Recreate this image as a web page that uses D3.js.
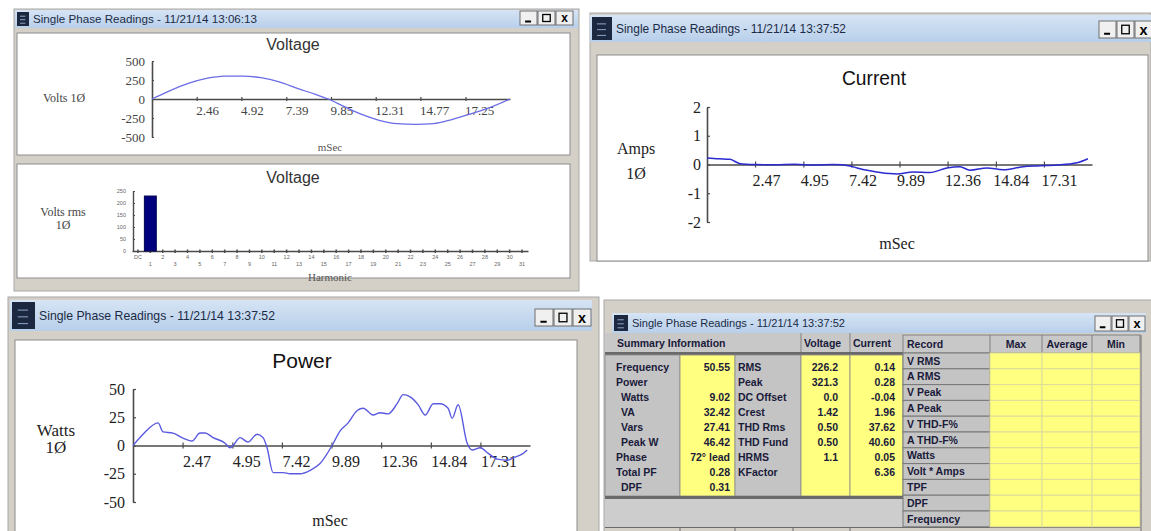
<!DOCTYPE html>
<html>
<head>
<meta charset="utf-8">
<script src="https://cdn.jsdelivr.net/npm/d3@7/dist/d3.min.js"></script>
<style>
  body { margin: 0; background: #fff; }
  svg { display: block; }
</style>
</head>
<body>
<div id="viz"></div>
<script>
// voltage waveform (top left)
var vTime  = [0, 1.0, 2.0, 3.0, 4.0, 5.0, 6.0, 7.0, 8.0, 9.0, 9.7, 10.5, 11.5, 12.5, 13.5, 14.5, 15.5, 16.5, 17.5, 18.5, 19.7];
var vVolts = [0, 110, 205, 270, 300, 302, 280, 225, 140, 60, 0, -90, -200, -280, -325, -335, -325, -270, -200, -120, 0];
var vTicks  = [2.46, 4.92, 7.39, 9.85, 12.31, 14.77, 17.25];
var vYTicks = [500, 250, 0, -250, -500];

// voltage harmonics
var harmonics = ['DC','1','2','3','4','5','6','7','8','9','10','11','12','13','14','15','16',
                 '17','18','19','20','21','22','23','24','25','26','27','28','29','30','31'];
var harmVolts = [0, 229, 0, 0, 0, 0, 0, 0, 0, 0, 0, 0, 0, 0, 0, 0, 0,
                 0, 0, 0, 0, 0, 0, 0, 0, 0, 0, 0, 0, 0, 0, 0];
var harmYTicks = [0, 50, 100, 150, 200, 250];

// current waveform
var iTime = [0, 0.6, 1.18, 1.7, 2.5, 3.5, 4.5, 5.5, 6.5, 7.35, 7.71, 8.37, 8.89, 9.76, 10.58, 11.46,
             12.33, 13.0, 13.51, 14.39, 15.21, 16.23, 16.95, 17.98, 19.01, 19.57];
var iAmps = [0.23, 0.2, 0.18, 0.03, 0.0, -0.01, 0.01, -0.02, 0.0, -0.05, -0.12, -0.22, -0.28, -0.33, -0.26, -0.28,
             -0.12, -0.08, -0.2, -0.12, -0.18, -0.08, -0.05, -0.02, 0.06, 0.2];
var iTicks  = [2.47, 4.95, 7.42, 9.89, 12.36, 14.84, 17.31];
var iYTicks = [2, 1, 0, -1, -2];

// power waveform
var pTime = [0, 0.5, 1.25, 1.5, 1.99, 2.44, 2.94, 3.34, 3.59, 3.99, 4.59, 4.84, 4.99, 5.33, 5.73, 6.18, 6.48,
             6.68, 6.98, 7.48, 7.83, 8.33, 8.82, 9.32, 9.92, 10.32, 10.72, 11.17, 11.47, 11.96, 12.31, 12.71,
             13.16, 13.46, 13.81, 14.21, 14.56, 14.96, 15.30, 15.70, 15.90, 16.20, 16.65, 16.90, 17.30, 17.70,
             18.15, 18.64, 18.94, 19.44, 19.64];
var pWatts = [0, 10, 20, 12, 11, 7, 4, 11, 11, 7, 2, -2, 0, 7, 3, 10, 7,
              -2, -24, -24, -25, -25, -22, -16, 0, 13, 20, 31, 33, 27, 29, 28,
              37, 45, 43, 36, 27, 37, 37, 33, 24, 36, 2, -4, -2, -7,
              -12, -13, -11, -7, -4];
var pYTicks = [50, 25, 0, -25, -50];

// summary table
var summaryLabels = ['Frequency', 'Power', ' Watts', ' VA', ' Vars', ' Peak W', 'Phase', 'Total PF', ' DPF'];
var summaryValues = ['50.55', '', '9.02', '32.42', '27.41', '46.42', '72\u00b0 lead', '0.28', '0.31'];
var measureLabels = ['RMS', 'Peak', 'DC Offset', 'Crest', 'THD Rms', 'THD Fund', 'HRMS', 'KFactor', ''];
var voltageValues = ['226.2', '321.3', '0.0', '1.42', '0.50', '0.50', '1.1', '', ''];
var currentValues = ['0.14', '0.28', '-0.04', '1.96', '37.62', '40.60', '0.05', '6.36', ''];
var recordLabels  = ['V RMS', 'A RMS', 'V Peak', 'A Peak', 'V THD-F%', 'A THD-F%', 'Watts', 'Volt * Amps', 'TPF', 'DPF', 'Frequency'];
var recordCols    = ['Max', 'Average', 'Min'];

var W = 1151, H = 531;
var SANS = 'Liberation Sans, Arial, sans-serif',
    SERIF = 'Liberation Serif, Times New Roman, serif',
    FRAME = '#d4d0c8',
    YELLOW = '#ffff80',
    GRAYCELL = '#c4c4c4',
    LINE = '#5a5ae0';

var plain = function(d) { return String(d); };
var twoDec = function(d) { return d.toFixed(2); };

var svg = d3.select('#viz').append('svg')
  .attr('width', W)
  .attr('height', H)
  .style('background', '#fff');

var defs = svg.append('defs');
var grad = defs.append('linearGradient').attr('id', 'tbar').attr('x1', 0).attr('y1', 0).attr('x2', 0).attr('y2', 1);
grad.append('stop').attr('offset', '0%').attr('stop-color', '#d6e4f5');
grad.append('stop').attr('offset', '100%').attr('stop-color', '#b8cfea');

// ---------- window chrome ----------
function windowChrome(f) {
  svg.append('rect')
    .attr('x', f.x).attr('y', f.y).attr('width', f.w).attr('height', f.h)
    .attr('fill', FRAME).attr('stroke', '#a8a8a8');
  svg.append('rect')
    .attr('x', f.tx).attr('y', f.ty).attr('width', f.tw).attr('height', f.th)
    .attr('fill', 'url(#tbar)');
  // app icon
  var ih = f.th - 4, iw = Math.round(ih * 0.85);
  var icon = svg.append('g').attr('transform', 'translate(' + (f.tx + 2) + ',' + (f.ty + 2) + ')');
  icon.append('rect').attr('width', iw).attr('height', ih).attr('fill', '#1c2740');
  [0.3, 0.55, 0.8].forEach(function(p) {
    icon.append('line').attr('x1', iw * 0.25).attr('x2', iw * 0.7)
      .attr('y1', ih * p).attr('y2', ih * p).attr('stroke', '#8fa6c8').attr('stroke-width', 1);
  });
  svg.append('text')
    .attr('x', f.tx + iw + 6).attr('y', f.ty + f.th / 2).attr('dy', '0.35em')
    .attr('font-family', SANS).attr('font-size', f.fs).attr('fill', '#1b2b45')
    .attr('textLength', f.tl).attr('lengthAdjust', 'spacingAndGlyphs')
    .text(f.title);
  // min / max / close
  var bw = f.bw, bh = f.bh, r = f.br, by = f.by;
  ['min', 'max', 'close'].forEach(function(kind, i) {
    var bx = r - (3 - i) * (bw + 1);
    var b = svg.append('g').attr('transform', 'translate(' + bx + ',' + by + ')');
    b.append('rect').attr('width', bw).attr('height', bh)
      .attr('fill', '#f0f0f0').attr('stroke', '#6e6e6e');
    if (kind === 'min') {
      b.append('line').attr('x1', bw * 0.3).attr('x2', bw * 0.65).attr('y1', bh * 0.75).attr('y2', bh * 0.75)
        .attr('stroke', '#000').attr('stroke-width', 2);
    } else if (kind === 'max') {
      b.append('rect').attr('x', bw * 0.28).attr('y', bh * 0.25).attr('width', bw * 0.44).attr('height', bh * 0.5)
        .attr('fill', 'none').attr('stroke', '#000').attr('stroke-width', 1.3);
    } else {
      b.append('text').attr('x', bw / 2).attr('y', bh / 2).attr('dy', '0.36em')
        .attr('text-anchor', 'middle').attr('font-family', SANS).attr('font-weight', 'bold')
        .attr('font-size', bh * 0.85).text('x');
    }
  });
}

function panel(x, y, w, h) {
  svg.append('rect').attr('x', x).attr('y', y).attr('width', w).attr('height', h)
    .attr('fill', '#fff').attr('stroke', '#8c8c8c');
}

function styleAxis(sel, font, size, color) {
  sel.attr('font-family', font).attr('font-size', size);
  sel.select('.domain').attr('stroke', '#4a4a4a').attr('stroke-width', 1.6);
  sel.selectAll('.tick line').attr('stroke', '#4a4a4a').attr('stroke-width', 1.2);
  sel.selectAll('.tick text').attr('fill', color);
}

function label(x, y, txt, font, size, opts) {
  opts = opts || {};
  return svg.append('text').attr('x', x).attr('y', y).attr('dy', '0.35em')
    .attr('text-anchor', opts.anchor || 'middle')
    .attr('font-family', font).attr('font-size', size)
    .attr('fill', opts.fill || '#222')
    .attr('font-weight', opts.weight || 'normal')
    .text(txt);
}

// ================= window A : voltage + harmonics =================
windowChrome({ x: 14, y: 9, w: 565, h: 282, tx: 15, ty: 10, tw: 563, th: 18, fs: 11,
  title: 'Single Phase Readings - 11/21/14 13:06:13', tl: 224,
  br: 574, by: 11, bw: 17, bh: 14 });
panel(17, 33, 553, 122);
panel(17, 164, 553, 114);

// voltage waveform
var xV = d3.scaleLinear().domain([0, 19.7]).range([152, 510]);
var yV = d3.scaleLinear().domain([-500, 500]).range([137, 61]);

var gVx = svg.append('g').attr('transform', 'translate(0,' + yV(0) + ')')
  .call(d3.axisBottom(xV).tickValues(vTicks).tickSizeInner(2).tickSizeOuter(0).tickPadding(5)
    .tickFormat(twoDec));
styleAxis(gVx, SERIF, 13, '#444');
gVx.selectAll('.tick line').attr('y1', -2);
gVx.selectAll('.tick text').attr('text-anchor', 'start').attr('x', -1);

var gVy = svg.append('g').attr('transform', 'translate(' + xV(0) + ',0)')
  .call(d3.axisLeft(yV).tickValues(vYTicks).tickSizeInner(-2).tickSizeOuter(0).tickPadding(7)
    .tickFormat(plain));
styleAxis(gVy, SERIF, 13, '#444');

svg.append('path').datum(d3.zip(vTime, vVolts))
  .attr('fill', 'none').attr('stroke', '#6c6ce6').attr('stroke-width', 1.3)
  .attr('d', d3.line().x(function(d) { return xV(d[0]); }).y(function(d) { return yV(d[1]); })
    .curve(d3.curveMonotoneX));

label(293, 44, 'Voltage', SANS, 16, { fill: '#333' });
label(64, 98, 'Volts  1\u00d8', SERIF, 12, { fill: '#444' });
label(330, 147, 'mSec', SERIF, 11, { fill: '#555' });

// harmonics bars
var xH = d3.scaleBand().domain(harmonics).range([132, 528]).paddingInner(0.04);
var yH = d3.scaleLinear().domain([0, 250]).range([251, 191]);

var evenH = harmonics.filter(function(d, i) { return i % 2 === 0; });
var oddH  = harmonics.filter(function(d, i) { return i % 2 === 1; });

var gHx = svg.append('g').attr('transform', 'translate(0,' + yH(0) + ')')
  .call(d3.axisBottom(xH).tickValues(evenH).tickSizeInner(2).tickSizeOuter(0).tickPadding(2));
styleAxis(gHx, SANS, 5.5, '#666');
gHx.select('.domain').attr('stroke-width', 1.4);
gHx.selectAll('.tick line').attr('y1', -1.5).attr('stroke-width', 1.5);

var gHx2 = svg.append('g').attr('transform', 'translate(0,' + yH(0) + ')')
  .call(d3.axisBottom(xH).tickValues(oddH).tickSizeInner(2).tickSizeOuter(0).tickPadding(9));
styleAxis(gHx2, SANS, 5.5, '#666');
gHx2.select('.domain').remove();
gHx2.selectAll('.tick line').attr('y1', -1.5).attr('stroke-width', 1.5);

var gHy = svg.append('g').attr('transform', 'translate(133,0)')
  .call(d3.axisLeft(yH).tickValues(harmYTicks).tickSizeInner(-2).tickSizeOuter(0).tickPadding(7)
    .tickFormat(plain));
styleAxis(gHy, SANS, 5.5, '#666');
gHy.select('.domain').attr('stroke-width', 1.4);

svg.append('g').selectAll('rect').data(harmVolts).enter().append('rect')
  .attr('x', function(d, i) { return xH(harmonics[i]); })
  .attr('width', xH.bandwidth())
  .attr('y', function(d) { return yH(d); })
  .attr('height', function(d) { return yH(0) - yH(d); })
  .attr('fill', '#00007e').attr('stroke', '#000050');

label(293, 177, 'Voltage', SANS, 16, { fill: '#333' });
label(63, 212, 'Volts rms', SERIF, 12, { fill: '#444' });
label(63, 225, '1\u00d8', SERIF, 12, { fill: '#444' });
label(330, 277, 'Harmonic', SERIF, 11, { fill: '#555' });

// ================= window B : current =================
windowChrome({ x: 590, y: 13, w: 561, h: 248, tx: 590, ty: 15, tw: 561, th: 27, fs: 13,
  title: 'Single Phase Readings - 11/21/14 13:37:52', tl: 230,
  br: 1153, by: 21, bw: 17, bh: 17 });
panel(597, 55, 551, 206);

var xI = d3.scaleLinear().domain([0, 19.78]).range([707, 1092]);
var yI = d3.scaleLinear().domain([-2, 2]).range([222, 107]);

var gIx = svg.append('g').attr('transform', 'translate(0,' + yI(0) + ')')
  .call(d3.axisBottom(xI).tickValues(iTicks).tickSizeInner(3).tickSizeOuter(0).tickPadding(7)
    .tickFormat(twoDec));
styleAxis(gIx, SERIF, 16, '#222');
gIx.selectAll('.tick line').attr('y1', -3);
gIx.selectAll('.tick text').attr('text-anchor', 'start').attr('x', -3);

var gIy = svg.append('g').attr('transform', 'translate(' + xI(0) + ',0)')
  .call(d3.axisLeft(yI).tickValues(iYTicks).tickSizeInner(-3).tickSizeOuter(0).tickPadding(6)
    .tickFormat(plain));
styleAxis(gIy, SERIF, 16, '#222');

svg.append('path').datum(d3.zip(iTime, iAmps))
  .attr('fill', 'none').attr('stroke', '#2b2bd0').attr('stroke-width', 1.5)
  .attr('d', d3.line().x(function(d) { return xI(d[0]); }).y(function(d) { return yI(d[1]); })
    .curve(d3.curveMonotoneX));

label(874, 78, 'Current', SANS, 21, { fill: '#111' }).attr('textLength', 64).attr('lengthAdjust', 'spacingAndGlyphs');
label(636, 148, 'Amps', SERIF, 16, { fill: '#222' });
label(636, 173, '1\u00d8', SERIF, 16, { fill: '#222' });
label(897, 243, 'mSec', SERIF, 16, { fill: '#222' });

// ================= window C : power =================
windowChrome({ x: 8, y: 297, w: 591, h: 240, tx: 10, ty: 300, tw: 582, th: 31, fs: 13,
  title: 'Single Phase Readings - 11/21/14 13:37:52', tl: 236,
  br: 592, by: 309, bw: 18, bh: 17 });
panel(15, 340, 562, 195);

var xP = d3.scaleLinear().domain([0, 19.78]).range([133, 530]);
var yP = d3.scaleLinear().domain([-50, 50]).range([502, 389]);

var gPx = svg.append('g').attr('transform', 'translate(0,' + yP(0) + ')')
  .call(d3.axisBottom(xP).tickValues(iTicks).tickSizeInner(3).tickSizeOuter(0).tickPadding(7)
    .tickFormat(twoDec));
styleAxis(gPx, SERIF, 16, '#222');
gPx.selectAll('.tick line').attr('y1', -3);
gPx.selectAll('.tick text').attr('text-anchor', 'start').attr('x', 0);

var gPy = svg.append('g').attr('transform', 'translate(' + xP(0) + ',0)')
  .call(d3.axisLeft(yP).tickValues(pYTicks).tickSizeInner(-3).tickSizeOuter(0).tickPadding(8)
    .tickFormat(plain));
styleAxis(gPy, SERIF, 16, '#222');

svg.append('path').datum(d3.zip(pTime, pWatts))
  .attr('fill', 'none').attr('stroke', LINE).attr('stroke-width', 1.4)
  .attr('d', d3.line().x(function(d) { return xP(d[0]); }).y(function(d) { return yP(d[1]); })
    .curve(d3.curveMonotoneX));

label(302, 361, 'Power', SANS, 21, { fill: '#111' });
label(56, 430, 'Watts', SERIF, 17, { fill: '#222' });
label(56, 447, '1\u00d8', SERIF, 17, { fill: '#222' });
label(330, 520, 'mSec', SERIF, 16, { fill: '#222' });

// ================= window D : summary table =================
windowChrome({ x: 604, y: 300, w: 548, h: 240, tx: 612, ty: 313, tw: 534, th: 20, fs: 10.5,
  title: 'Single Phase Readings - 11/21/14 13:37:52', tl: 213,
  br: 1146, by: 316, bw: 16, bh: 15 });

var cellFont = 'Liberation Sans, Arial, sans-serif';
function cellText(x, y, txt, anchor) {
  return svg.append('text').attr('x', x).attr('y', y).attr('dy', '0.35em')
    .attr('text-anchor', anchor || 'start')
    .attr('font-family', cellFont).attr('font-size', 10.5).attr('font-weight', 'bold')
    .attr('fill', '#1a1a3a').text(txt);
}

// summary header
svg.append('rect').attr('x', 605).attr('y', 333).attr('width', 298).attr('height', 20).attr('fill', '#c8c8c8');
[801, 850].forEach(function(x) {
  svg.append('line').attr('x1', x).attr('x2', x).attr('y1', 333).attr('y2', 353).attr('stroke', '#808080');
});
cellText(617, 343, 'Summary Information');
cellText(804, 343, 'Voltage');
cellText(853, 343, 'Current');
svg.append('rect').attr('x', 605).attr('y', 352).attr('width', 298).attr('height', 3).attr('fill', '#6a6a6a');

// summary body columns
var sumCols = [
  { x0: 605, x1: 680, fill: GRAYCELL, data: summaryLabels, tx: 616, anchor: 'start' },
  { x0: 680, x1: 735, fill: YELLOW, data: summaryValues, tx: 730, anchor: 'end' },
  { x0: 735, x1: 801, fill: GRAYCELL, data: measureLabels, tx: 738, anchor: 'start' },
  { x0: 801, x1: 850, fill: YELLOW, data: voltageValues, tx: 838, anchor: 'end' },
  { x0: 850, x1: 903, fill: YELLOW, data: currentValues, tx: 895, anchor: 'end' }
];
sumCols.forEach(function(c) {
  svg.append('rect').attr('x', c.x0).attr('y', 355).attr('width', c.x1 - c.x0).attr('height', 141)
    .attr('fill', c.fill).attr('stroke', '#8a8a8a').attr('stroke-width', 0.8);
  c.data.forEach(function(t, i) {
    var indent = (c.anchor === 'start' && t.charAt(0) === ' ') ? 5 : 0;
    cellText(c.tx + indent, 367 + i * 15, t.trim(), c.anchor);
  });
});
svg.append('rect').attr('x', 605).attr('y', 496).attr('width', 298).attr('height', 3).attr('fill', '#6a6a6a');
svg.append('rect').attr('x', 605).attr('y', 499).attr('width', 298).attr('height', 28).attr('fill', '#cdcdcd');
svg.append('line').attr('x1', 605).attr('x2', 1140).attr('y1', 527.5).attr('y2', 527.5).attr('stroke', '#6a6a6a');
[680, 735, 793, 850].forEach(function(x) {
  svg.append('line').attr('x1', x).attr('x2', x).attr('y1', 528).attr('y2', 531).attr('stroke', '#6a6a6a');
});

// record table
var recEdges = [903, 990, 1042, 1092, 1140];
var recTop = 335, recHead = 18, recRow = 15.8;
svg.append('rect').attr('x', 903).attr('y', recTop).attr('width', 237).attr('height', recHead).attr('fill', '#c8c8c8')
  .attr('stroke', '#808080');
recEdges.slice(1, 4).forEach(function(x) {
  svg.append('line').attr('x1', x).attr('x2', x).attr('y1', recTop).attr('y2', recTop + recHead).attr('stroke', '#808080');
});
cellText(907, recTop + recHead / 2, 'Record');
recordCols.forEach(function(t, j) {
  cellText((recEdges[j + 1] + recEdges[j + 2]) / 2, recTop + recHead / 2, t, 'middle');
});

recordLabels.forEach(function(t, i) {
  var y = recTop + recHead + i * recRow;
  svg.append('rect').attr('x', 903).attr('y', y).attr('width', 87).attr('height', recRow)
    .attr('fill', GRAYCELL).attr('stroke', '#777').attr('stroke-width', 1);
  recordCols.forEach(function(c, j) {
    svg.append('rect').attr('x', recEdges[j + 1]).attr('y', y)
      .attr('width', recEdges[j + 2] - recEdges[j + 1]).attr('height', recRow)
      .attr('fill', YELLOW).attr('stroke', '#dcdc9a').attr('stroke-width', 1);
  });
  cellText(907, y + recRow / 2, t);
});
svg.append('line').attr('x1', 1141).attr('x2', 1141).attr('y1', recTop).attr('y2', 531).attr('stroke', '#707070');
</script>
</body>
</html>
